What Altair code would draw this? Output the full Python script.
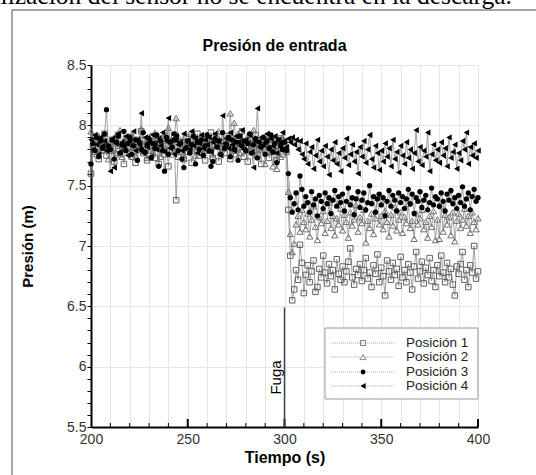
import altair as alt
import pandas as pd

# ---------------- data ----------------
times = list(range(200, 401))
series_names = ["Posición 1", "Posición 2", "Posición 3", "Posición 4"]

p1 = [7.60, 7.83, 7.78, 7.90, 7.72, 7.86, 7.80, 7.93, 7.75, 7.84,
      7.79, 7.88, 7.70, 7.85, 7.92, 7.76, 7.83, 7.68, 7.87, 7.81,
      7.90, 7.74, 7.82, 7.69, 7.88, 7.80, 7.95, 7.77, 7.84, 7.71,
      7.86, 7.79, 7.91, 7.73, 7.85, 7.68, 7.82, 7.89, 7.76, 7.83,
      7.66, 7.87, 7.80, 7.92, 7.38, 7.74, 7.81, 7.86, 7.72, 7.90,
      7.78, 7.84, 7.69, 7.88, 7.82, 7.93, 7.75, 7.80, 7.87, 7.71,
      7.85, 7.79, 7.94, 7.73, 7.83, 7.88, 7.70, 7.86, 7.81, 7.77,
      7.91, 7.84, 7.72, 7.89, 7.80, 7.76, 7.87, 7.82, 7.95, 7.74,
      7.83, 7.70, 7.88, 7.79, 7.85, 7.92, 7.75, 7.81, 7.68, 7.86,
      7.80, 7.90, 7.73, 7.84, 7.78, 7.87, 7.71, 7.83, 7.89, 7.76,
      7.82, 7.78, 7.30, 6.92, 6.55, 6.64, 6.80, 6.72, 7.01, 6.86,
      6.61, 6.76, 6.84, 6.70, 6.79, 6.88, 6.62, 6.66, 6.81, 6.74,
      6.92, 6.78, 6.69, 6.85, 6.75, 6.80, 6.64, 6.89, 6.77, 6.72,
      6.83, 6.70, 6.79, 6.87, 6.98, 6.74, 6.68, 6.81, 6.76, 6.85,
      6.71, 6.80, 6.90, 6.73, 6.78, 6.66, 6.84, 6.77, 6.93, 6.70,
      6.82, 6.75, 6.59, 6.88, 6.79, 6.72, 6.86, 6.76, 6.81, 6.67,
      6.91, 6.74, 6.80, 6.70, 6.85, 6.78, 6.64, 6.83, 6.95, 6.73,
      6.79, 6.87, 6.69, 6.82, 6.76, 6.90, 6.71, 6.80, 6.66, 6.84,
      6.75, 6.92, 6.78, 6.70, 6.86, 6.74, 6.81, 6.68, 6.59, 6.83,
      6.77, 6.85, 6.95, 6.72, 6.80, 6.66, 6.84, 6.78, 7.00, 6.73,
      6.79]

p2 = [7.95, 7.82, 7.88, 7.76, 7.91, 7.85, 7.79, 7.93, 7.84, 7.72,
      7.86, 7.80, 7.90, 7.77, 7.83, 7.96, 7.74, 7.87, 7.81, 7.89,
      7.78, 7.92, 7.84, 7.75, 7.88, 7.82, 7.97, 7.79, 7.85, 7.73,
      7.90, 7.83, 7.77, 7.94, 7.81, 7.86, 7.74, 7.89, 7.80, 7.92,
      7.98, 7.84, 7.76, 7.88, 8.06, 7.91, 7.78, 7.85, 7.73, 7.87,
      7.81, 7.93, 7.79, 7.86, 7.75, 7.90, 7.83, 7.88, 7.77, 7.84,
      7.92, 7.80, 7.87, 7.74, 7.89, 7.83, 7.95, 7.78, 7.86, 7.81,
      7.90, 7.84, 8.10, 7.79, 8.02, 7.85, 7.93, 7.77, 7.88, 7.82,
      7.86, 7.91, 7.79, 7.84, 7.96, 7.75, 7.89, 7.83, 7.80, 7.87,
      7.68, 7.85, 7.92, 7.78, 7.66, 7.88, 7.64, 7.86, 7.74, 7.90,
      7.84, 7.80, 7.45, 7.10, 6.95, 7.02, 7.18, 7.25, 7.12, 7.30,
      7.20, 7.14, 7.27, 7.08, 7.22, 7.33, 7.16, 7.05, 7.24, 7.19,
      7.29, 7.11, 7.21, 7.36, 7.15, 7.25, 7.09, 7.23, 7.18, 7.31,
      7.13, 7.26, 7.20, 7.07, 7.28, 7.17, 7.22, 7.34, 7.12, 7.24,
      7.19, 7.30, 7.03, 7.21, 7.15, 7.27, 7.10, 7.23, 7.42, 7.18,
      7.25, 7.14, 7.29, 7.20, 7.08, 7.26, 7.17, 7.32, 7.13, 7.22,
      7.28, 7.11, 7.24, 7.19, 7.35, 7.15, 7.21, 7.06, 7.27, 7.18,
      7.23, 7.30, 7.14, 7.20, 7.07, 7.25, 7.16, 7.29, 7.05, 7.22,
      7.06, 7.33, 7.12, 7.26, 7.18, 7.24, 7.09, 7.28, 7.04, 7.21,
      7.27, 7.15, 7.22, 7.31, 7.17, 7.25, 7.11, 7.28, 7.20, 7.14,
      7.23]

p3 = [7.68, 7.85, 7.79, 7.90, 7.74, 7.87, 7.81, 7.93, 8.13, 7.83,
      7.80, 7.88, 7.72, 7.86, 7.91, 7.77, 7.84, 7.95, 7.79, 7.85,
      7.90, 7.76, 7.83, 7.88, 7.71, 7.86, 7.80, 7.94, 7.78, 7.84,
      7.89, 7.73, 7.85, 7.81, 7.92, 7.66, 7.87, 7.79, 7.62, 7.90,
      7.76, 7.86, 7.82, 7.93, 7.88, 7.79, 7.85, 7.72, 7.65, 7.81,
      7.87, 7.77, 7.84, 7.91, 7.68, 7.86, 7.80, 7.88, 7.75, 7.83,
      7.92, 7.79, 7.66, 7.70, 7.89, 7.82, 7.87, 7.76, 7.94, 7.81,
      7.84, 7.90, 7.74, 7.88, 7.80, 7.86, 7.71, 7.91, 7.83, 7.87,
      7.79, 7.85, 7.93, 7.77, 7.84, 7.89, 7.73, 7.86, 7.82, 7.90,
      7.76, 7.87, 7.81, 7.92, 7.78, 7.85, 7.69, 7.88, 7.83, 7.80,
      7.86, 7.79, 7.60, 7.40, 7.28, 7.35, 7.44, 7.30, 7.58, 7.47,
      7.33, 7.41, 7.36, 7.28, 7.45, 7.34, 7.39, 7.25, 7.42, 7.37,
      7.31, 7.44, 7.35, 7.40, 7.27, 7.38, 7.46, 7.33, 7.41, 7.36,
      7.43, 7.29, 7.37, 7.48, 7.34, 7.40, 7.26, 7.39, 7.45, 7.32,
      7.38, 7.44, 7.30, 7.36, 7.50, 7.35, 7.41, 7.28, 7.39, 7.43,
      7.34, 7.40, 7.25, 7.37, 7.46, 7.33, 7.42, 7.38, 7.29, 7.44,
      7.36, 7.41, 7.31, 7.39, 7.47, 7.35, 7.43, 7.27, 7.40, 7.37,
      7.45, 7.32, 7.38, 7.42, 7.30, 7.36, 7.48, 7.34, 7.41, 7.39,
      7.33, 7.44, 7.37, 7.29, 7.43, 7.38, 7.46, 7.35, 7.40, 7.31,
      7.42, 7.36, 7.49, 7.33, 7.39, 7.44, 7.30, 7.41, 7.47, 7.37,
      7.40]

p4 = [7.88, 7.80, 7.92, 7.84, 7.76, 7.90, 7.83, 7.87, 7.79, 7.81,
      7.62, 7.89, 7.65, 7.85, 7.93, 7.78, 7.86, 7.82, 7.91, 7.75,
      7.87, 7.83, 7.95, 7.79, 7.88, 7.84, 8.10, 7.77, 7.90, 7.82,
      7.86, 7.74, 7.92, 7.85, 7.80, 7.89, 7.83, 7.94, 7.78, 7.87,
      8.06, 7.81, 7.88, 7.76, 7.91, 7.84, 7.86, 7.79, 7.93, 7.82,
      7.87, 7.80, 7.95, 7.83, 7.89, 7.77, 7.85, 7.92, 7.81, 7.88,
      7.84, 7.90, 7.78, 7.86, 7.93, 7.82, 7.87, 7.75, 8.08, 7.85,
      7.89, 7.81, 7.94, 7.84, 7.79, 7.91, 7.86, 7.83, 7.96, 7.80,
      7.88, 7.85, 7.92, 7.78, 7.65, 7.87, 8.14, 7.82, 7.90, 7.84,
      7.86, 7.93, 7.80, 7.89, 7.83, 7.91, 7.77, 7.88, 7.85, 7.94,
      7.87, 7.82, 7.89, 7.86, 7.90, 7.84, 7.88, 7.80, 7.87, 7.76,
      7.72, 7.85, 7.68, 7.78, 7.82, 7.64, 7.75, 7.88, 7.70, 7.79,
      7.66, 7.83, 7.74, 7.59, 7.80, 7.71, 7.86, 7.68, 7.77, 7.62,
      7.81, 7.73, 7.89, 7.67, 7.76, 7.84, 7.70, 7.78, 7.60, 7.82,
      7.74, 7.87, 7.69, 7.80, 7.92, 7.72, 7.65, 7.83, 7.77, 7.63,
      7.79, 7.70, 7.85, 7.74, 7.81, 7.66, 7.88, 7.72, 7.78, 7.61,
      7.83, 7.75, 7.68, 7.86, 7.73, 7.80, 7.64, 7.77, 7.96, 7.70,
      7.82, 7.67, 7.79, 7.74, 7.94, 7.62, 7.76, 7.84, 7.71, 7.80,
      7.69, 7.86, 7.75, 7.81, 7.66, 7.90, 7.73, 7.78, 7.84, 7.64,
      7.77, 7.71, 7.87, 7.80, 7.94, 7.68, 7.82, 7.75, 7.85, 7.73,
      7.79]

leak_time = [300]
leak_top = [6.49]
leak_label_time = [295.6]
leak_label_p = [5.91]
major_x = [250, 300, 350, 400]
minor_x = [t for t in range(210, 400, 10) if t % 50 != 0]
x_values = list(range(200, 401, 10))
y_values = [round(5.5 + 0.1 * i, 1) for i in range(31)]

rows = []
for name, vals in zip(series_names, [p1, p2, p3, p4]):
    for t, v in zip(times, vals):
        rows.append({"t": t, "p": v, "serie": name})
df = pd.DataFrame(rows)

W, H = 387, 362
FONT = "Liberation Sans"

is_half = "abs(datum.value*2 - round(datum.value*2)) < 0.001"

x_axis = alt.Axis(
    title="Tiempo (s)", values=x_values,
    labelExpr="datum.value % 50 == 0 ? datum.label : ''",
    ticks=False, tickSize=0, labelPadding=5, labelFontSize=14, labelFont=FONT,
    labelColor="#333", labelFlush=False,
    grid=True, gridColor="#e6e6e6", gridWidth=1,
    domainColor="black", domainWidth=2,
    titleFont=FONT, titleFontSize=16, titleFontWeight="bold", titleColor="black",
    titlePadding=3,
)
y_axis = alt.Axis(
    title="Presión (m)", values=y_values,
    labelExpr=is_half + " ? toString(datum.value) : ''",
    tickSize=4, tickColor="black", tickWidth=1,
    labelPadding=1, labelFontSize=14, labelFont=FONT, labelColor="#333",
    labelFlush=False,
    grid=True, gridColor="#e6e6e6",
    gridOpacity={"condition": {"test": is_half, "value": 1}, "value": 0},
    domainColor="black", domainWidth=2,
    titleFont=FONT, titleFontSize=15, titleFontWeight="bold", titleColor="black",
    titlePadding=31,
)

X = alt.X("t:Q", scale=alt.Scale(domain=[200, 400], nice=False), axis=x_axis)
Y = alt.Y("p:Q", scale=alt.Scale(domain=[5.5, 8.5], nice=False, zero=False), axis=y_axis)

base = alt.Chart(df)

lines = base.mark_line(color="#8c8c8c", strokeWidth=1, opacity=0.8).encode(
    x=X, y=Y, detail="serie:N", order="t:Q")

m1 = base.transform_filter(f"datum.serie == '{series_names[0]}'").mark_point(
    shape="square", filled=False, color="#606060", strokeWidth=1, size=30, opacity=1).encode(x=X, y=Y)
m2 = base.transform_filter(f"datum.serie == '{series_names[1]}'").mark_point(
    shape="triangle-up", filled=False, color="#707070", strokeWidth=1, size=40, opacity=1).encode(x=X, y=Y)
m3 = base.transform_filter(f"datum.serie == '{series_names[2]}'").mark_point(
    shape="circle", filled=True, color="black", size=28, opacity=1).encode(x=X, y=Y)
m4 = base.transform_filter(f"datum.serie == '{series_names[3]}'").mark_point(
    shape="triangle-left", filled=True, color="black", size=40, opacity=1).encode(x=X, y=Y)

# inward x ticks
tick_major = alt.Chart(pd.DataFrame({"t": major_x})).mark_rule(color="black", strokeWidth=2).encode(
    x=X, y=alt.value(H), y2=alt.value(H - 8))
tick_minor = alt.Chart(pd.DataFrame({"t": minor_x})).mark_rule(color="black", strokeWidth=1).encode(
    x=X, y=alt.value(H), y2=alt.value(H - 4))

# leak marker
leak_df = pd.DataFrame({"t": leak_time, "p": leak_top, "p2": [5.5]})
leak_rule = alt.Chart(leak_df).mark_rule(color="#444", strokeWidth=1.5).encode(
    x=X, y=Y, y2="p2:Q")
leak_text = alt.Chart(pd.DataFrame({"t": leak_label_time, "p": leak_label_p, "txt": ["Fuga"]})).mark_text(
    angle=270, align="center", baseline="middle", font=FONT, fontSize=15, color="black").encode(
    x=X, y=Y, text="txt:N")

one = pd.DataFrame({"k": [0]})

frame = alt.Chart(one).mark_rect(fill="white", fillOpacity=0, stroke="#888", strokeWidth=1.5).encode(
    x=alt.value(-79), x2=alt.value(470), y=alt.value(-55), y2=alt.value(430))

top_text = alt.Chart(pd.DataFrame({"txt": ["la localización del sensor no se encuentra en la descarga."]})).mark_text(
    align="right", baseline="alphabetic", font="Liberation Serif", fontSize=25.5, color="black").encode(
    x=alt.value(421), y=alt.value(-61), text="txt:N")

title = alt.Chart(pd.DataFrame({"txt": ["Presión de entrada"]})).mark_text(
    align="center", baseline="alphabetic", font=FONT, fontSize=16, fontWeight="bold", color="black").encode(
    x=alt.value(183.5), y=alt.value(-14), text="txt:N")

# legend
leg_box = alt.Chart(one).mark_rect(fill="white", stroke="#999", strokeWidth=1).encode(
    x=alt.value(234), x2=alt.value(387), y=alt.value(263), y2=alt.value(334))
legend_layers = [leg_box]
leg_y = [278, 292, 307, 321]
leg_marks = [
    dict(shape="square", filled=False, color="#777", strokeWidth=1, size=26),
    dict(shape="triangle-up", filled=False, color="#888", strokeWidth=1, size=36),
    dict(shape="circle", filled=True, color="black", size=24),
    dict(shape="triangle-left", filled=True, color="black", size=36),
]
for name, yy, mk in zip(series_names, leg_y, leg_marks):
    d = pd.DataFrame({"txt": [name]})
    legend_layers.append(alt.Chart(d).mark_rule(color="#aaa", strokeWidth=1, strokeDash=[1, 1]).encode(
        x=alt.value(240), x2=alt.value(304), y=alt.value(yy)))
    legend_layers.append(alt.Chart(d).mark_point(opacity=1, **mk).encode(
        x=alt.value(272), y=alt.value(yy)))
    legend_layers.append(alt.Chart(d).mark_text(
        align="left", baseline="middle", font=FONT, fontSize=13.5, color="#222").encode(
        x=alt.value(315), y=alt.value(yy), text="txt:N"))

chart = alt.layer(
    frame, top_text, title,
    lines, m1, m2, m3, m4,
    tick_minor, tick_major,
    leak_rule, leak_text,
    *legend_layers,
).properties(
    width=W, height=H,
    autosize=alt.AutoSizeParams(type="none"),
    padding={"left": 91, "top": 65, "right": 58, "bottom": 48},
    background="white",
).configure_view(stroke=None)

chart.save("out.html", embed_options={"renderer": "svg", "actions": False})
